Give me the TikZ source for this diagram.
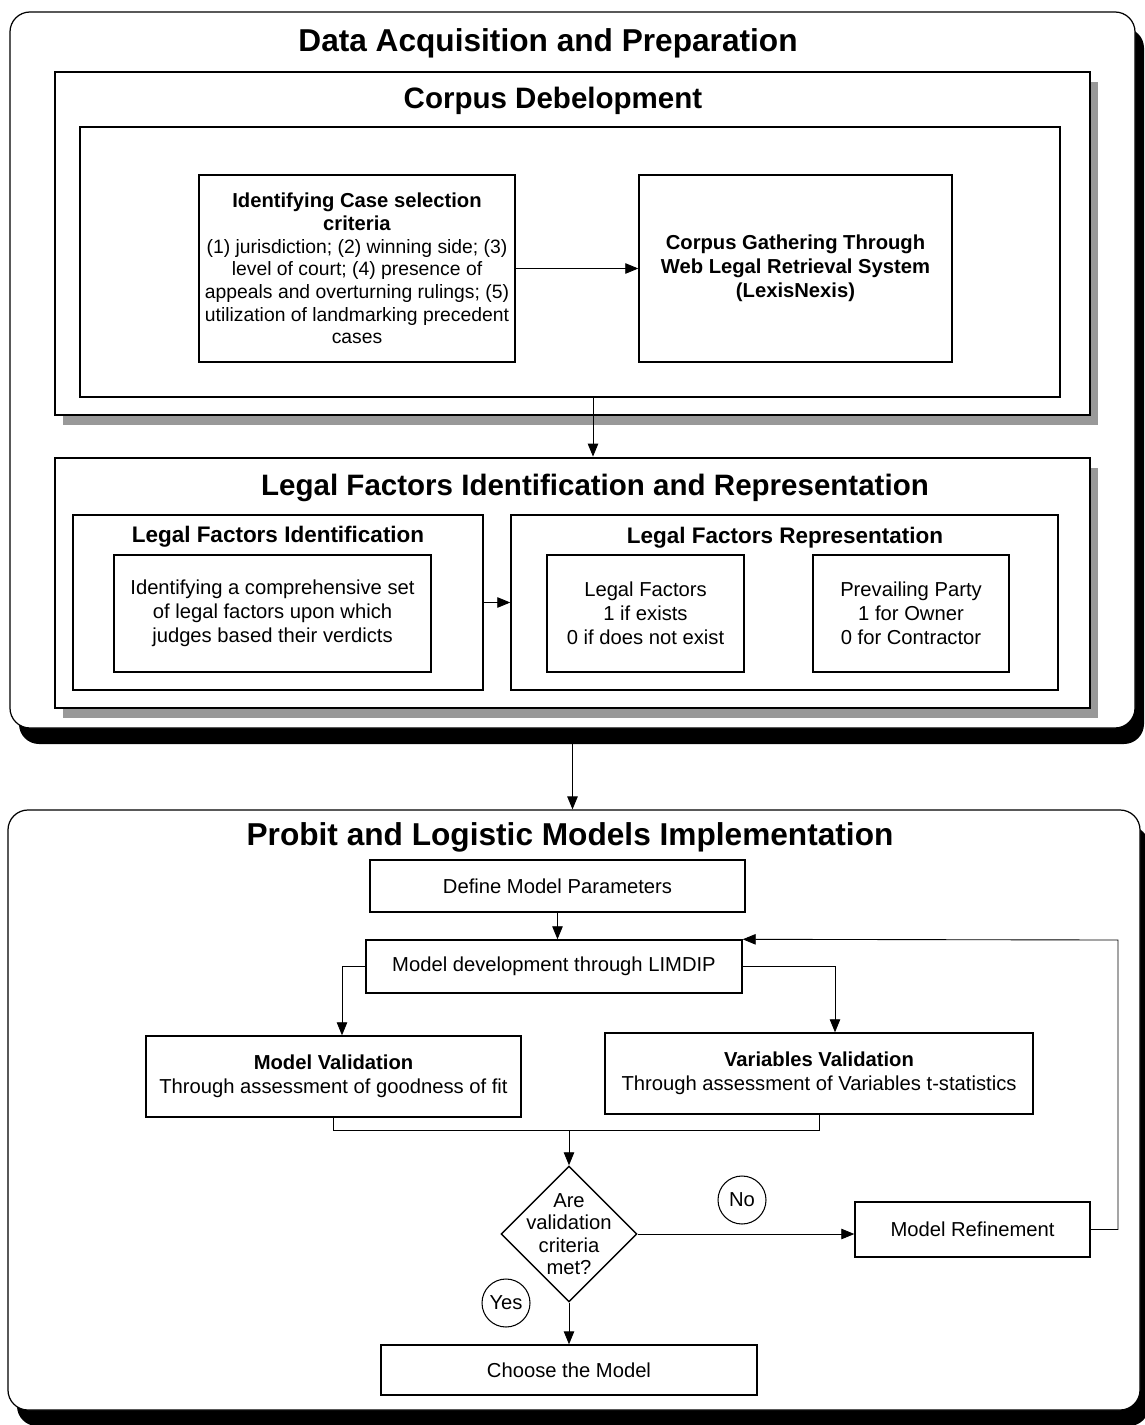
\documentclass[tikz,border=0pt]{standalone}
\usepackage{fontspec}
\setmainfont{Liberation Sans}
\usetikzlibrary{shapes,arrows.meta,shadows}

\newcommand{\panelfont}{\fontsize{18}{21}\selectfont\bfseries}
\newcommand{\stagefont}{\fontsize{16.8}{20}\selectfont\bfseries}
\newcommand{\subfont}{\fontsize{12.8}{15}\selectfont\bfseries}
\newcommand{\bodyfont}{\fontsize{11.5}{13.6}\selectfont}
\newcommand{\critfont}{\fontsize{11}{12.9}\selectfont}

\begin{document}
\begin{tikzpicture}[x=0.2mm, y=-0.2mm, >={Triangle[length=2.6mm,width=2.1mm]}, line width=0.5pt]
\tikzstyle{panel}=[draw, fill=white, rounded corners=4mm, line width=0.7pt, drop shadow={shadow xshift=1.8mm, shadow yshift=-3.2mm, fill=black, opacity=1}]
\tikzstyle{stage}=[draw, fill=white, line width=1.6pt, drop shadow={shadow xshift=1.6mm, shadow yshift=-2mm, fill=black!40, opacity=1}]
\tikzstyle{frame}=[draw, fill=white, line width=0.8pt, inner sep=0pt]
\tikzstyle{proc}=[draw, fill=white, line width=0.8pt, align=center, font=\bodyfont]
\tikzstyle{answer}=[draw, fill=white, circle, minimum size=9.6mm, inner sep=0pt, line width=0.6pt, font=\bodyfont]
\useasboundingbox (0,0) rectangle (1144,1425);

% data acquisition
\node[panel, minimum width=225mm, minimum height=143.2mm] (acq) at (572.5,370) {};
\node[font=\panelfont] (acqtitle) at (548,43) {Data Acquisition and Preparation};

\node[stage, minimum width=207mm, minimum height=68.6mm] (corpus) at (572.5,243.5) {};
\node[font=\stagefont] (corpustitle) at (553,101) {Corpus Debelopment};
\node[frame, minimum width=196mm, minimum height=54mm] (corpin) at (570,262) {};
\node[proc, minimum width=62.4mm, minimum height=37.4mm, font=\critfont] (crit) at (357,268.5)
  {\textbf{\fontsize{11.5}{13.6}\selectfont Identifying Case selection}\\
   \textbf{\fontsize{11.5}{13.6}\selectfont criteria}\\
   (1) jurisdiction; (2) winning side; (3)\\ level of court; (4) presence of\\
   appeals and overturning rulings; (5)\\ utilization of landmarking precedent\\ cases};
\node[proc, minimum width=62.6mm, minimum height=37.4mm, font=\bodyfont\bfseries] (gather) at (795.5,268.5)
  {Corpus Gathering Through\\ Web Legal Retrieval System\\ (LexisNexis)};

\node[stage, minimum width=207mm, minimum height=50mm] (legal) at (572.5,583) {};
\node[font=\stagefont] (legaltitle) at (595,488) {Legal Factors Identification and Representation};
\node[frame, minimum width=82mm, minimum height=35mm] (lfi) at (278,602.5) {};
\node[font=\subfont] (lfititle) at (278,537) {Legal Factors Identification};
\node[proc, minimum width=63.4mm, minimum height=23.4mm] (lfitxt) at (272.5,613.5)
  {Identifying a comprehensive set\\ of legal factors upon which\\ judges based their verdicts};
\node[frame, minimum width=109.4mm, minimum height=35mm] (lfr) at (784.5,602.5) {};
\node[font=\subfont] (lfrtitle) at (785,538) {Legal Factors Representation};
\node[proc, minimum width=39.4mm, minimum height=23.4mm] (factors) at (645.5,613.5)
  {Legal Factors\\ 1 if exists\\ 0 if does not exist};
\node[proc, minimum width=39.2mm, minimum height=23.4mm] (party) at (911,613.5)
  {Prevailing Party\\ 1 for Owner\\ 0 for Contractor};

\path[->]
(crit) edge (gather)
([xshift=4.6mm]corpin.south) edge ([xshift=4.6mm]corpin.south |- legal.north)
(lfi) edge (lfr);

% models
\node[panel, minimum width=226.4mm, minimum height=120mm] (models) at (574,1110) {};
\node[font=\panelfont] (modelstitle) at (570,837) {Probit and Logistic Models Implementation};
\draw[->] (acq.south) -- (acq.south |- models.north);

\node[proc, minimum width=75mm, minimum height=10.4mm] (define) at (557.5,886) {Define Model Parameters};
\node[proc, minimum width=75.2mm, minimum height=10.6mm] (dev) at (554,966.5) {Model development through LIMDIP};
\node[proc, minimum width=75mm, minimum height=16.2mm] (mv) at (333.5,1076.5)
  {\textbf{Model Validation}\\ Through assessment of goodness of fit};
\node[proc, minimum width=85.6mm, minimum height=16.2mm] (vv) at (819,1073.5)
  {\textbf{Variables Validation}\\ Through assessment of Variables t-statistics};
\node[draw, fill=white, diamond, minimum width=27.2mm, minimum height=27.2mm, inner sep=0pt, line width=0.8pt,
  label={[font=\fontsize{11.5}{12.7}\selectfont, align=center]center:{Are\\ validation\\ criteria\\ met?}}] (decide) at (569,1234) {};
\node[proc, minimum width=47mm, minimum height=11mm] (refine) at (972.5,1229.5) {Model Refinement};
\node[proc, minimum width=75.2mm, minimum height=10mm] (choose) at (569,1370) {Choose the Model};
\node[answer] (no) at (742,1200) {No};
\node[answer] (yes) at (506,1303) {Yes};

\coordinate (merge) at (569,1130);
\coordinate (loop) at (1118,940);

\draw[->] (define.south) -- (define.south |- dev.north);
\draw[->] (dev.west) -| ([xshift=1.7mm]mv.north);
\draw[->] (dev.east) -| ([xshift=3.2mm]vv.north);
\draw (mv.south) |- (merge) -| (vv.south);
\draw[->] (merge) -- (decide.north);
\draw[->] (decide.east) -- (decide.east -| refine.west);
\draw[->] (refine.east) -| (loop) -- (dev.north east);
\draw[->] (decide.south) -- (choose.north);

\end{tikzpicture}
\end{document}
